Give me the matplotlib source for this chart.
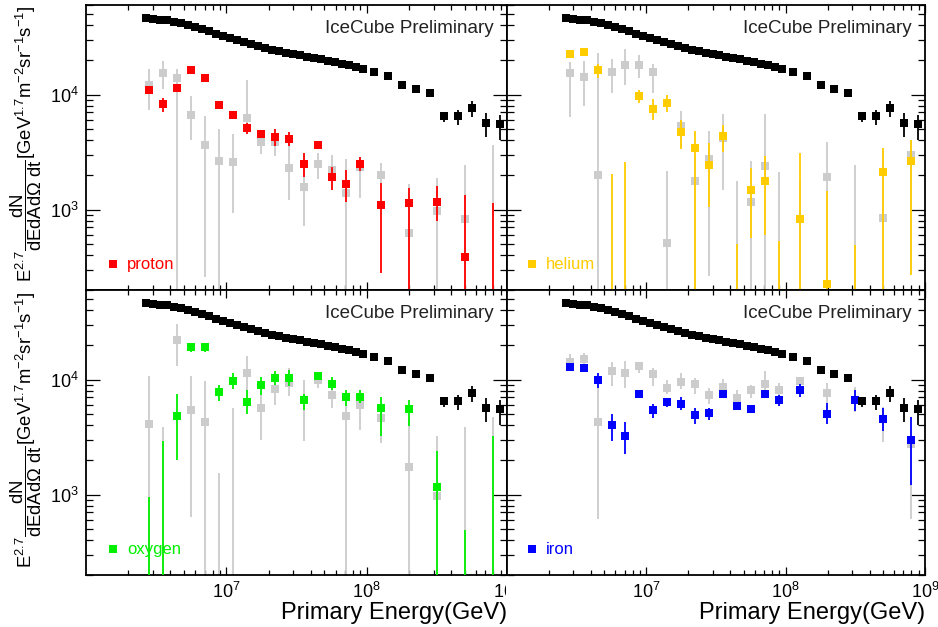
import numpy as np
import matplotlib
matplotlib.use("Agg")
import matplotlib.pyplot as plt
from matplotlib.ticker import LogLocator, NullFormatter, FixedLocator
from matplotlib.patches import Rectangle

plt.rcParams['font.family'] = ['Liberation Sans', 'DejaVu Sans']
plt.rcParams['mathtext.fontset'] = 'custom'
plt.rcParams['mathtext.rm'] = 'Liberation Sans'
plt.rcParams['mathtext.it'] = 'Liberation Sans:italic'
plt.rcParams['mathtext.bf'] = 'Liberation Sans:bold'

# all-particle spectrum (black), log10(E/GeV) bin centres
allpart_logE = [6.425, 6.475, 6.525, 6.575, 6.625, 6.675, 6.725, 6.775, 6.825, 6.875,
                6.925, 6.975, 7.025, 7.075, 7.125, 7.175, 7.225, 7.275, 7.325, 7.375,
                7.425, 7.475, 7.525, 7.575, 7.625, 7.675, 7.725, 7.775, 7.825, 7.875,
                7.925, 7.975, 8.05, 8.15, 8.25, 8.35, 8.45, 8.55, 8.65, 8.75, 8.85, 8.95]
allpart_val = [4.58e4, 4.52e4, 4.46e4, 4.40e4, 4.28e4, 4.17e4, 4.03e4, 3.87e4, 3.72e4, 3.55e4,
               3.39e4, 3.23e4, 3.11e4, 2.96e4, 2.85e4, 2.73e4, 2.63e4, 2.54e4, 2.46e4, 2.39e4,
               2.31e4, 2.25e4, 2.19e4, 2.14e4, 2.08e4, 2.02e4, 1.97e4, 1.92e4, 1.86e4, 1.80e4,
               1.73e4, 1.66e4, 1.58e4, 1.45e4, 1.21e4, 1.11e4, 1.04e4, 6.5e3, 6.5e3, 7.59e3,
               5.68e3, 5.53e3]
# only the last five bins have visible error bars
allpart_lo = [5.8e3, 5.42e3, 6.41e3, 4.29e3, 4.02e3]
allpart_hi = [7.08e3, 7.33e3, 8.78e3, 6.85e3, 6.63e3]

# composition bins
comp_logE = [6.45, 6.55, 6.65, 6.75, 6.85, 6.95, 7.05, 7.15, 7.25, 7.35, 7.45,
             7.55, 7.65, 7.75, 7.85, 7.95, 8.1, 8.3, 8.5, 8.7, 8.9]

# values below 200 are off the plotted range (marker not shown)
proton_val = [1.10e4, 8.3e3, 1.14e4, 1.62e4, 1.38e4, 8.1e3, 6.6e3, 5.1e3, 4.55e3, 4.25e3, 4.1e3,
              2.5e3, 3.65e3, 1.93e3, 1.66e3, 2.5e3, 1.09e3, 1.13e3, 1.17e3, 385, 100]
proton_lo = [1.04e4, 7.0e3, 1.08e4, 1.54e4, 1.31e4, 7.7e3, 6.25e3, 4.55e3, 4.3e3, 3.55e3, 3.55e3,
             1.93e3, 3.45e3, 1.48e3, 1.17e3, 2.15e3, 280, 10, 800, 10, 10]
proton_hi = [1.16e4, 9.35e3, 1.20e4, 1.70e4, 1.45e4, 8.5e3, 7.0e3, 5.65e3, 4.85e3, 5.0e3, 4.7e3,
             3.1e3, 3.85e3, 2.33e3, 2.2e3, 2.85e3, 1.71e3, 1.55e3, 1.6e3, 1.33e3, 1.14e3]
proton_ref_val = [1.22e4, 1.53e4, 1.40e4, 6.7e3, 3.65e3, 2.67e3, 2.58e3, 6.25e3, 3.9e3, 3.85e3, 2.3e3,
                  1.56e3, 2.5e3, 2.2e3, 1.40e3, 2.35e3, 2.0e3, 625, 975, 820, 100]
proton_ref_lo = [7.4e3, 1.11e4, 10, 4.05e3, 260, 10, 935, 4.9e3, 3.05e3, 2.93e3, 1.21e3,
                 725, 1.83e3, 1.48e3, 10, 1.25e3, 1.7e3, 10, 10, 10, 10]
proton_ref_hi = [1.66e4, 1.96e4, 1.66e4, 9.7e3, 6.45e3, 5.0e3, 4.55e3, 1.35e4, 4.8e3, 4.5e3, 4.05e3,
                 2.98e3, 3.1e3, 2.98e3, 2.73e3, 2.8e3, 2.56e3, 1.67e3, 1.87e3, 2.44e3, 3.66e3]

helium_val = [2.24e4, 2.35e4, 1.62e4, 100, 100, 9.7e3, 7.5e3, 8.5e3, 4.69e3, 3.40e3, 2.42e3,
              4.35e3, 100, 1.49e3, 1.77e3, 100, 822, 226, 100, 2.13e3, 2.67e3]
helium_lo = [2.1e4, 2.2e4, 1.38e4, 10, 10, 8.46e3, 6.0e3, 7.05e3, 3.33e3, 10, 1.05e3,
             3.18e3, 10, 566, 597, 10, 10, 10, 10, 10, 272]
helium_hi = [2.38e4, 2.5e4, 1.83e4, 2.04e3, 2.58e3, 1.09e4, 9.2e3, 1.0e4, 6.0e3, 4.81e3, 3.76e3,
             5.42e3, 499, 2.32e3, 2.91e3, 530, 3.11e3, 1.45e3, 494, 3.42e3, 4.04e3]
helium_ref_val = [1.53e4, 1.43e4, 2.0e3, 1.57e4, 1.79e4, 1.79e4, 1.57e4, 512, 5.32e3, 1.77e3, 2.74e3,
                  4.15e3, 100, 1.16e3, 2.4e3, 100, 100, 1.92e3, 100, 851, 2.98e3]
helium_ref_lo = [6.34e3, 8.0e3, 10, 1.03e4, 1.22e4, 1.40e4, 1.03e4, 10, 3.5e3, 10, 264,
                 1.49e3, 10, 10, 10, 10, 10, 10, 10, 10, 291]
helium_ref_hi = [1.9e4, 1.96e4, 2.31e4, 2.05e4, 2.48e4, 2.19e4, 1.83e4, 2.17e3, 7.18e3, 3.0e3, 4.81e3,
                 6.76e3, 1.77e3, 2.63e3, 6.76e3, 2.13e3, 1.8e3, 3.84e3, 2.44e3, 3.26e3, 4.04e3]

oxygen_val = [100, 100, 4.82e3, 1.93e4, 1.93e4, 7.8e3, 9.67e3, 6.38e3, 9.04e3, 1.04e4, 1.04e4,
              6.6e3, 1.07e4, 9.11e3, 7.06e3, 7.06e3, 5.66e3, 5.51e3, 1.16e3, 100, 100]
oxygen_lo = [10, 10, 2.0e3, 1.74e4, 1.74e4, 6.47e3, 8.35e3, 4.99e3, 7.3e3, 8.93e3, 8.75e3,
             5.47e3, 9.87e3, 8.07e3, 5.85e3, 6.26e3, 3.21e3, 3.92e3, 10, 10, 10]
oxygen_hi = [962, 2.92e3, 7.45e3, 2.06e4, 2.06e4, 9.04e3, 1.13e4, 8.07e3, 1.05e4, 1.19e4, 1.22e4,
             7.45e3, 1.13e4, 1.05e4, 8.18e3, 8.07e3, 7.06e3, 6.6e3, 2.39e3, 495, 3.21e3]
oxygen_ref_val = [4.13e3, 100, 2.2e4, 5.47e3, 4.28e3, 100, 100, 1.14e4, 5.71e3, 8.24e3, 9.35e3,
                  6.6e3, 9.9e3, 7.3e3, 4.82e3, 5.97e3, 4.67e3, 1.75e3, 966, 100, 100]
oxygen_ref_lo = [10, 10, 1.32e4, 643, 10, 10, 10, 8.0e3, 3.0e3, 5.97e3, 7.16e3,
                 2.92e3, 8.5e3, 5.71e3, 10, 3.66e3, 2.81e3, 10, 10, 10, 10]
oxygen_ref_hi = [1.07e4, 3.86e3, 3.02e4, 1.07e4, 9.73e3, 1.54e3, 5.7e3, 1.6e4, 7.5e3, 1.15e4, 1.25e4,
                 1.0e4, 1.15e4, 8.93e3, 6.38e3, 8.07e3, 5.97e3, 4.67e3, 3.21e3, 3.86e3, 4.7e3]

iron_val = [1.29e4, 1.26e4, 9.87e3, 4.0e3, 3.21e3, 7.55e3, 5.47e3, 6.38e3, 6.18e3, 4.96e3, 5.15e3,
            7.55e3, 5.85e3, 5.58e3, 7.55e3, 6.69e3, 8.07e3, 4.99e3, 6.6e3, 4.57e3, 3.0e3]
iron_lo = [1.22e4, 1.19e4, 8.51e3, 2.9e3, 2.26e3, 7.1e3, 4.64e3, 5.78e3, 5.41e3, 4.13e3, 4.48e3,
           7.1e3, 5.41e3, 5.25e3, 7.06e3, 5.85e3, 7.06e3, 4.13e3, 5.33e3, 3.57e3, 1.21e3]
iron_hi = [1.36e4, 1.33e4, 1.14e4, 4.99e3, 4.28e3, 8.0e3, 6.18e3, 6.97e3, 7.06e3, 5.66e3, 5.71e3,
           8.0e3, 6.26e3, 5.9e3, 8.07e3, 7.3e3, 9.11e3, 6.26e3, 8.07e3, 5.71e3, 4.72e3]
iron_ref_val = [1.43e4, 1.52e4, 4.28e3, 1.18e4, 1.14e4, 1.31e4, 1.11e4, 8.51e3, 9.54e3, 9.11e3, 7.3e3,
                8.63e3, 6.97e3, 8.07e3, 9.22e3, 8.07e3, 9.7e3, 7.66e3, 6.6e3, 4.57e3, 2.73e3]
iron_ref_lo = [1.28e4, 1.35e4, 614, 8.75e3, 8.51e3, 1.13e4, 8.75e3, 7.55e3, 8.24e3, 7.45e3, 6.18e3,
               7.5e3, 5.97e3, 6.97e3, 7.9e3, 7.0e3, 8.8e3, 6.18e3, 5.22e3, 2.86e3, 614]
iron_ref_hi = [1.66e4, 1.71e4, 8.5e3, 1.43e4, 1.45e4, 1.40e4, 1.25e4, 9.87e3, 1.13e4, 1.04e4, 8.51e3,
               1.02e4, 8.18e3, 8.93e3, 1.18e4, 9.42e3, 1.04e4, 9.35e3, 8.63e3, 5.78e3, 3.05e3]

W, H = 938, 627
fig = plt.figure(figsize=(W / 100, H / 100), dpi=100)

def px_axes(x0, y0, x1, y1, z=0):
    return fig.add_axes([x0 / W, 1 - y1 / H, (x1 - x0) / W, (y1 - y0) / H], zorder=z)

def errbars(ax, x, v, lo, hi, color, z):
    v = np.array(v); lo = np.array(lo); hi = np.array(hi)
    ax.errorbar(x, v, yerr=[v - lo, hi - v], fmt='s', color=color, ms=6, mew=0,
                elinewidth=1.3, capsize=3, capthick=1.3, zorder=z)

def draw_panel(ax, name, color, val, lo, hi, rval, rlo, rhi, left, bottom):
    E = 10 ** np.array(comp_logE)
    Eall = 10 ** np.array(allpart_logE)
    errbars(ax, E, rval, rlo, rhi, '#cccccc', 2)
    errbars(ax, E, val, lo, hi, color, 3)
    ax.plot(Eall, allpart_val, 's', color='black', ms=6.2, mew=0, zorder=4)
    errbars(ax, Eall[-5:], allpart_val[-5:], allpart_lo, allpart_hi, 'black', 4)

    ax.set_xscale('log')
    ax.set_yscale('log')
    ax.set_xlim(1e6, 1e9)
    ax.set_ylim(200, 6e4)
    ax.xaxis.set_major_locator(FixedLocator([1e7, 1e8, 1e9]))
    ax.xaxis.set_minor_locator(LogLocator(base=10, subs=np.arange(2, 10), numticks=20))
    ax.yaxis.set_major_locator(FixedLocator([1e3, 1e4]))
    ax.yaxis.set_minor_locator(LogLocator(base=10, subs=np.arange(2, 10), numticks=20))
    ax.tick_params(which='both', direction='in', top=True, right=True, width=0.9,
                   labelsize=13, color='black')
    ax.tick_params(axis='x', which='major', length=6, pad=5)
    ax.tick_params(axis='x', which='minor', length=3.5)
    ax.tick_params(axis='y', which='major', length=10, pad=5)
    ax.tick_params(axis='y', which='minor', length=5)
    ax.xaxis.set_minor_formatter(NullFormatter())
    ax.yaxis.set_minor_formatter(NullFormatter())
    if not left:
        ax.set_yticklabels([])
    if not bottom:
        ax.set_xticklabels([])
    else:
        ax.set_xlabel('Primary Energy(GeV)', fontsize=17, ha='right')
        ax.xaxis.set_label_coords(1.0, -0.095)
        ax.xaxis.label.set_va('top')
    for s in ax.spines.values():
        s.set_linewidth(1.3)

    ax.text(0.968, 0.919, 'IceCube Preliminary', transform=ax.transAxes,
            ha='right', va='center', fontsize=13.5, color='#222222')
    lx = 0.064 if left else 0.060
    ax.plot([lx], [0.091], 's', color=color, ms=5.5, mew=0, transform=ax.transAxes, clip_on=False)
    ax.text(lx + 0.034, 0.091, name, transform=ax.transAxes, ha='left', va='center',
            fontsize=12, color=color)

ax_p = px_axes(86, 5, 507, 290, 0)
ax_o = px_axes(86, 290, 507, 575, 0)
draw_panel(ax_p, 'proton', '#ff0000', proton_val, proton_lo, proton_hi,
           proton_ref_val, proton_ref_lo, proton_ref_hi, True, False)
draw_panel(ax_o, 'oxygen', '#00f000', oxygen_val, oxygen_lo, oxygen_hi,
           oxygen_ref_val, oxygen_ref_lo, oxygen_ref_hi, True, True)

# right column pad hides what overflows from the left column
fig.patches.append(Rectangle((506 / W, 0), 1 - 506 / W, 1 - 575 / H, transform=fig.transFigure,
                             facecolor='white', edgecolor='none', zorder=1))

ax_h = px_axes(507, 5, 925, 290, 2)
ax_f = px_axes(507, 290, 925, 575, 2)
draw_panel(ax_h, 'helium', '#ffcc00', helium_val, helium_lo, helium_hi,
           helium_ref_val, helium_ref_lo, helium_ref_hi, False, False)
draw_panel(ax_f, 'iron', '#0000ff', iron_val, iron_lo, iron_hi,
           iron_ref_val, iron_ref_lo, iron_ref_hi, False, True)

ylab = r'$\mathrm{E}^{2.7}\dfrac{\mathrm{dN}}{\mathrm{dEdA d}\Omega\ \mathrm{dt}}[\mathrm{GeV}^{1.7}\mathrm{m}^{-2}\mathrm{sr}^{-1}\mathrm{s}^{-1}]$'
fig.text(26 / W, 1 - 144 / H, ylab, rotation=90, ha='center', va='center', fontsize=13.3)
fig.text(26 / W, 1 - 430 / H, ylab, rotation=90, ha='center', va='center', fontsize=13.3)

fig.savefig('out.png', dpi=100)
